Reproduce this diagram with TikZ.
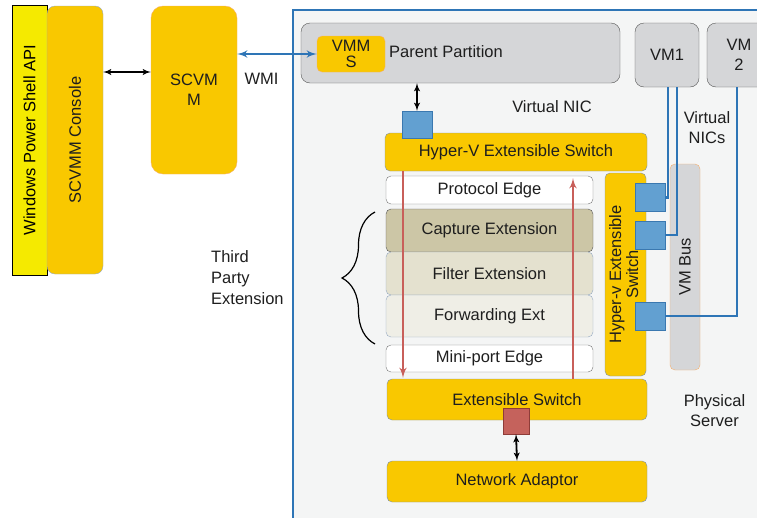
\documentclass[tikz,border=0pt]{standalone}
\usepackage{fontspec}
\setmainfont{Liberation Sans}
\usepackage{tikz}
\usetikzlibrary{arrows.meta,arrows}
\usetikzlibrary{decorations.pathreplacing}
\definecolor{gold}{RGB}{249,200,0}
\definecolor{boxline}{RGB}{125,145,170}
\definecolor{orangeline}{RGB}{245,176,112}
\definecolor{apiyellow}{RGB}{245,234,0}
\definecolor{vmgrey}{RGB}{213,214,216}
\definecolor{greyline}{RGB}{85,85,85}
\definecolor{capturefill}{RGB}{204,198,166}
\definecolor{filterfill}{RGB}{228,225,207}
\definecolor{forwardfill}{RGB}{239,238,230}
\definecolor{stageline}{RGB}{150,170,195}
\definecolor{nicblue}{RGB}{98,160,209}
\definecolor{nicline}{RGB}{58,120,176}
\definecolor{portred}{RGB}{197,98,92}
\definecolor{portline}{RGB}{142,60,56}
\definecolor{redarrow}{RGB}{200,95,90}
\definecolor{serverline}{RGB}{46,117,182}
\definecolor{serverfill}{RGB}{244,245,245}
\definecolor{textdark}{RGB}{30,30,30}
\newcommand{\boxfont}{\fontsize{16.5}{20}\selectfont}
\tikzstyle{block} = [rectangle, draw=boxline, fill=gold, text=textdark, align=center,
    rounded corners=5pt, inner sep=0pt, font=\boxfont]
\tikzstyle{vmbox} = [rectangle, draw=greyline, fill=vmgrey, text=textdark, align=center,
    rounded corners=9pt, inner sep=0pt, font=\boxfont]
\tikzstyle{stage} = [rectangle, draw=stageline, text=textdark, rounded corners=5pt,
    minimum width=207pt, inner sep=0pt, font=\boxfont]
\tikzstyle{nic} = [rectangle, draw=nicline, fill=nicblue, minimum width=30pt,
    minimum height=28pt, inner sep=0pt]
\tikzstyle{plain} = [text=textdark, align=center, inner sep=0pt, font=\boxfont]
\tikzstyle{link} = [draw, latex'-latex', line width=1.8pt]
\tikzstyle{bluelink} = [draw=serverline, -latex', line width=2.5pt]
\tikzstyle{redlink} = [draw=redarrow, -latex', line width=2.5pt]
\tikzstyle{vline} = [draw=serverline, line width=2.5pt]

\begin{document}
\begin{tikzpicture}[x=1pt,y=-1pt]
  \clip (0,0) rectangle (757,517);
  % frame
  \node [rectangle, draw=serverline, fill=serverfill, line width=2.5pt,
    minimum width=477pt, minimum height=520pt](server) at (531.5,270) {};
  % nodes
  \node [rectangle, draw=black, fill=apiyellow, minimum width=35pt, minimum height=270pt,
    inner sep=0pt, font=\boxfont](api) at (29.5,140) {\rotatebox{90}{Windows Power Shell API}};
  \node [block, draw=stageline, rounded corners=8pt, minimum width=56pt,
    minimum height=268pt](console) at (75,140) {\rotatebox{90}{SCVMM Console}};
  \node [block, draw=orangeline, rounded corners=12pt, minimum width=86pt,
    minimum height=168pt](scvmm) at (194,90) {SCVM\\M};
  \node [plain](wmi) at (261.5,79) {WMI};
  \node [vmbox, minimum width=319pt, minimum height=60pt](parent) at (460.5,53) {};
  \node [plain](pplabel) at (446,52) {Parent Partition};
  \node [block, draw=orangeline, minimum width=68pt, minimum height=36pt,
    font=\fontsize{16.5}{16}\selectfont](vmms) at (351,54) {VMM\\S};
  \node [vmbox, minimum width=64pt, minimum height=64pt](vm1) at (667,55) {VM1};
  \node [vmbox, minimum width=64pt, minimum height=64pt](vm2) at (739,55) {VM\\2};
  \node [plain](vnic) at (552,107) {Virtual NIC};
  \node [plain](vnics) at (707,128) {Virtual\\NICs};
  \node [block, minimum width=262pt, minimum height=38pt](hvswitch) at (516,152) {Hyper-V Extensible Switch};
  \node [nic, minimum height=27pt](nic0) at (417,124.5) {};
  \node [stage, draw=greyline!80, fill=white, minimum height=28pt](protocol) at (489.5,190) {Protocol Edge};
  \node [stage, draw=greyline, fill=capturefill, minimum height=43pt](capture) at (489.5,230.5) {Capture Extension};
  \node [stage, fill=filterfill, minimum height=43pt](filter) at (489.5,273.5) {Filter Extension};
  \node [stage, fill=forwardfill, minimum height=42pt](forward) at (489.5,316) {Forwarding Ext};
  \node [stage, draw=greyline!80, fill=white, minimum height=27pt](miniport) at (489.5,358.5) {Mini-port Edge};
  \node [block, minimum width=41pt, minimum height=203pt](hvside) at (625.5,274.5)
    {\rotatebox{90}{\begin{tabular}{@{}c@{}}Hyper-v Extensible\\[-3pt]Switch\end{tabular}}};
  \node [rectangle, draw=orangeline, fill=vmgrey, rounded corners=5pt, minimum width=30pt,
    minimum height=206pt, inner sep=0pt, text=textdark, font=\boxfont](vmbus) at (685,267) {\rotatebox{90}{VM Bus}};
  \node [nic](nic1) at (650,197.5) {};
  \node [nic](nic2) at (650,235) {};
  \node [nic](nic3) at (650,316) {};
  \node [plain, anchor=west, align=left, font=\fontsize{16.5}{21}\selectfont](third) at (211,278) {Third\\Party\\Extension};
  \node [block, minimum width=260pt, minimum height=41pt](extswitch) at (517,399.5) {Extensible Switch};
  \node [rectangle, draw=portline, fill=portred, minimum width=26pt, minimum height=26pt,
    inner sep=0pt](port) at (516,421) {};
  \node [block, minimum width=260pt, minimum height=41pt](netadapt) at (517,481.5) {Network Adaptor};
  \node [plain](physical) at (714.5,411) {Physical\\Server};
  % edges
  \path [link] ([yshift=68pt]console.east) -- ([yshift=18pt]scvmm.west);
  \path [bluelink, latex'-latex'] ([yshift=36pt]scvmm.east) -- (vmms.west);
  \path [link] (parent.south -| nic0) -- (nic0.north);
  \path [link] (port.south) -- (netadapt.north);
  \path [vline] ([xshift=1pt]vm1.south) |- (nic1.east);
  \path [vline] ([xshift=10pt]vm1.south) |- (nic2.east);
  \path [vline] ([xshift=-2pt]vm2.south) |- (nic3.east);
  \coordinate (down) at ([xshift=-113pt]hvswitch.south);
  \coordinate (up) at ([xshift=57pt]hvswitch.south);
  \path [redlink, shorten >=1pt] (down) -- (down |- extswitch.north);
  \path [redlink, shorten >=7pt] (up |- extswitch.north) -- (up);
  \draw [decorate, decoration={brace, amplitude=33pt}, line width=1.2pt] (375,344) -- (375,212);
\end{tikzpicture}
\end{document}
